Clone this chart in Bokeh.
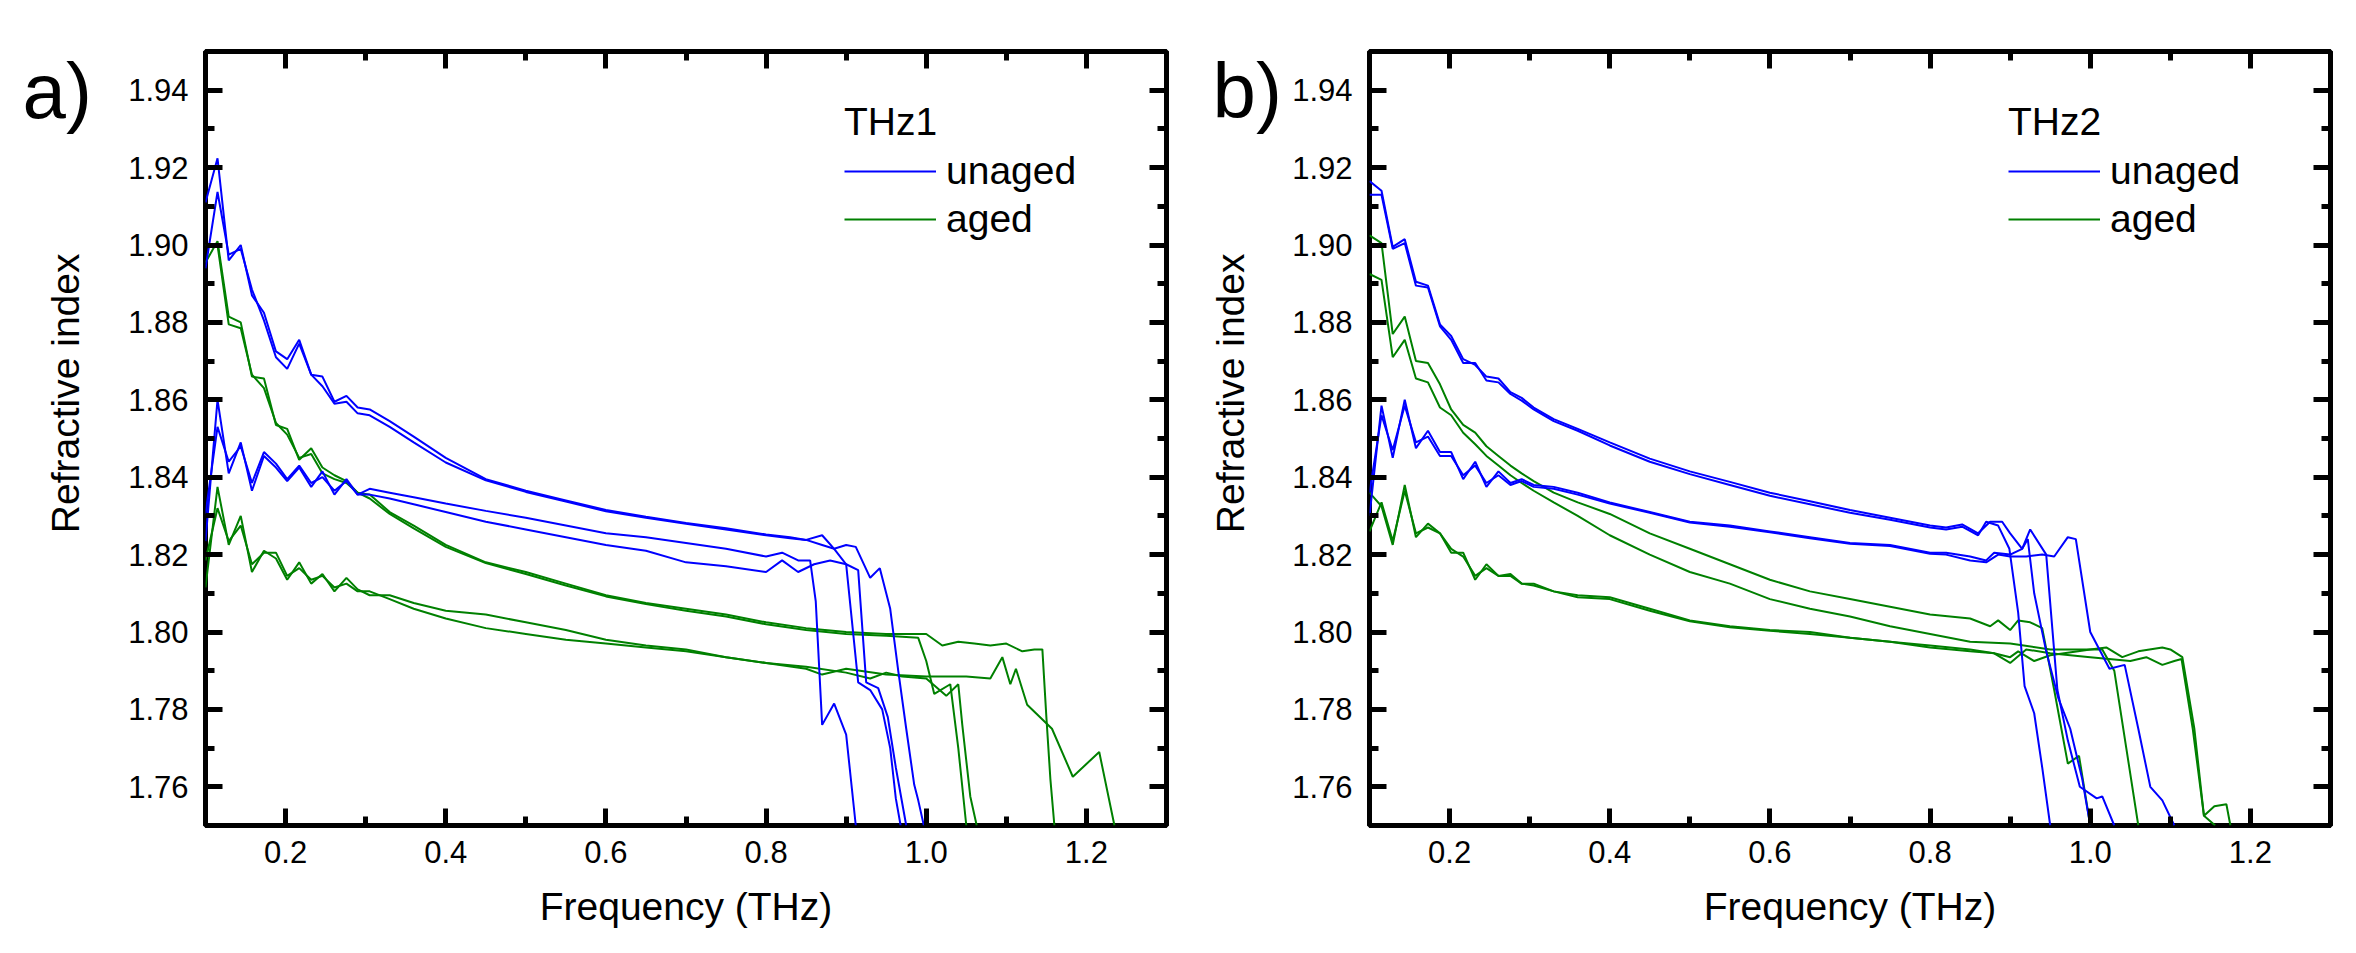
import math
from bokeh.plotting import figure
from bokeh.models import (LinearAxis, Range1d, Legend, LegendItem, Label,
                          FixedTicker, NumeralTickFormatter, CustomJSTickFormatter)
from bokeh.layouts import row
from bokeh.embed import file_html
from bokeh.resources import INLINE

# ---------------- data ----------------
FREQ_GRID = [0.100, 0.115, 0.129, 0.144, 0.158, 0.173, 0.188, 0.202, 0.217, 0.232,
             0.246, 0.261, 0.276, 0.290, 0.305, 0.33, 0.36, 0.40, 0.45, 0.50,
             0.55, 0.60, 0.65, 0.70, 0.75, 0.80]

X_TICKS = [0.2, 0.4, 0.6, 0.8, 1.0, 1.2]
X_MINOR = [0.1, 0.3, 0.5, 0.7, 0.9, 1.1, 1.3]
Y_TICKS = [1.76, 1.78, 1.80, 1.82, 1.84, 1.86, 1.88, 1.90, 1.92, 1.94]
Y_MINOR = [1.75, 1.77, 1.79, 1.81, 1.83, 1.85, 1.87, 1.89, 1.91, 1.93, 1.95]

X_LABEL = "Frequency (THz)"
Y_LABEL = "Refractive index"

# ---- THz1 (panel a) ----
A_UNAGED_1 = [1.911, 1.9224, 1.896, 1.900, 1.887, 1.8825, 1.8725, 1.8705, 1.8755, 1.8665,
              1.866, 1.8595, 1.861, 1.858, 1.8575, 1.8545, 1.8505, 1.845, 1.8395, 1.8365,
              1.834, 1.8315, 1.8298, 1.8282, 1.8268, 1.8252]
A_UNAGED_1_TAIL_F = [0.83, 0.85, 0.87, 0.885, 0.90, 0.915, 0.93, 0.945, 0.955, 0.962, 0.968]
A_UNAGED_1_TAIL_N = [1.8245, 1.8238, 1.825, 1.8215, 1.8175, 1.787, 1.785, 1.78, 1.77, 1.757, 1.75]

A_UNAGED_2 = [1.894, 1.9137, 1.8975, 1.899, 1.8885, 1.8805, 1.871, 1.868, 1.8745, 1.8665,
              1.8635, 1.859, 1.8595, 1.8565, 1.856, 1.853, 1.849, 1.8438, 1.8392, 1.8362,
              1.8337, 1.8312, 1.8295, 1.828, 1.8265, 1.825]
A_UNAGED_2_TAIL_F = [0.83, 0.85, 0.87, 0.885, 0.90, 0.912, 0.93, 0.942, 0.955, 0.965, 0.975, 0.985, 0.99, 0.997]
A_UNAGED_2_TAIL_N = [1.8242, 1.8238, 1.8225, 1.8215, 1.8225, 1.822, 1.814, 1.8165, 1.806, 1.79, 1.775, 1.7605, 1.7565, 1.75]

A_UNAGED_3 = [1.8235, 1.860, 1.841, 1.849, 1.8365, 1.8455, 1.8425, 1.839, 1.8425, 1.8375,
              1.8415, 1.8355, 1.8395, 1.8355, 1.837, 1.836, 1.8348, 1.8332, 1.8313, 1.8295,
              1.8275, 1.8255, 1.8245, 1.823, 1.8215, 1.8195]
A_UNAGED_3_TAIL_F = [0.82, 0.84, 0.855, 0.862, 0.87, 0.885, 0.90, 0.912]
A_UNAGED_3_TAIL_N = [1.8205, 1.8185, 1.8185, 1.808, 1.776, 1.7815, 1.7735, 1.75]

A_UNAGED_4 = [1.8305, 1.853, 1.844, 1.848, 1.8385, 1.8465, 1.8435, 1.8395, 1.843, 1.8385,
              1.840, 1.8365, 1.839, 1.8355, 1.8355, 1.8345, 1.833, 1.831, 1.8285, 1.8265,
              1.8245, 1.8225, 1.821, 1.818, 1.817, 1.8155]
A_UNAGED_4_TAIL_F = [0.82, 0.84, 0.86, 0.88, 0.90, 0.915, 0.925, 0.94, 0.952, 0.962, 0.975]
A_UNAGED_4_TAIL_N = [1.8185, 1.8155, 1.8175, 1.8185, 1.8175, 1.816, 1.787, 1.7855, 1.778, 1.765, 1.75]

A_AGED_1 = [1.8955, 1.901, 1.8815, 1.880, 1.866, 1.8655, 1.8535, 1.8525, 1.8445, 1.8475,
            1.8425, 1.8405, 1.839, 1.836, 1.8355, 1.831, 1.8275, 1.8225, 1.818, 1.8155,
            1.8125, 1.8095, 1.8075, 1.806, 1.8045, 1.8025]
A_AGED_1_TAIL_F = [0.85, 0.90, 0.95, 1.00, 1.02, 1.04, 1.06, 1.08, 1.10, 1.12, 1.135, 1.145, 1.15, 1.155, 1.16]
A_AGED_1_TAIL_N = [1.801, 1.800, 1.7995, 1.7995, 1.7965, 1.7975, 1.797, 1.7965, 1.797, 1.795, 1.7955, 1.7955, 1.778, 1.762, 1.75]

A_AGED_2 = [1.900, 1.900, 1.8795, 1.8785, 1.8665, 1.863, 1.854, 1.851, 1.845, 1.846,
            1.841, 1.8395, 1.8385, 1.836, 1.8345, 1.8305, 1.8268, 1.822, 1.8178, 1.815,
            1.812, 1.8092, 1.8072, 1.8055, 1.804, 1.802]
A_AGED_2_TAIL_F = [0.85, 0.90, 0.95, 0.99, 1.00, 1.01, 1.03, 1.04, 1.05]
A_AGED_2_TAIL_N = [1.8005, 1.7995, 1.799, 1.7985, 1.7925, 1.784, 1.7865, 1.77, 1.75]

A_AGED_3 = [1.8115, 1.8375, 1.8225, 1.830, 1.8155, 1.821, 1.819, 1.8135, 1.818, 1.8125,
            1.815, 1.8105, 1.814, 1.811, 1.8095, 1.8095, 1.8075, 1.8055, 1.8045, 1.8025,
            1.8005, 1.798, 1.7965, 1.7955, 1.7935, 1.792]
A_AGED_3_TAIL_F = [0.85, 0.87, 0.90, 0.95, 1.00, 1.05, 1.08, 1.095, 1.105, 1.112, 1.126, 1.157, 1.183, 1.216, 1.235]
A_AGED_3_TAIL_N = [1.7905, 1.789, 1.7905, 1.789, 1.7885, 1.7885, 1.788, 1.7935, 1.7865, 1.7905, 1.7812, 1.775, 1.7626, 1.769, 1.75]

A_AGED_4 = [1.8185, 1.832, 1.8235, 1.8275, 1.8175, 1.8205, 1.8205, 1.8145, 1.8165, 1.8135,
            1.8145, 1.8115, 1.8125, 1.8105, 1.8105, 1.8085, 1.806, 1.8035, 1.801, 1.7995,
            1.798, 1.797, 1.796, 1.795, 1.7935, 1.792]
A_AGED_4_TAIL_F = [0.85, 0.90, 0.93, 0.95, 0.97, 1.00, 1.025, 1.04, 1.045, 1.055, 1.063]
A_AGED_4_TAIL_N = [1.791, 1.7895, 1.788, 1.7895, 1.7885, 1.788, 1.7835, 1.7865, 1.776, 1.7575, 1.75]

# ---- THz2 (panel b) ----
B_UNAGED_1 = [1.9165, 1.914, 1.8995, 1.9015, 1.8905, 1.8895, 1.8795, 1.8765, 1.8705, 1.869,
              1.866, 1.8655, 1.862, 1.8605, 1.858, 1.855, 1.8525, 1.849, 1.8448, 1.8415,
              1.8388, 1.836, 1.8338, 1.8315, 1.8295, 1.8275]
B_UNAGED_1_TAIL_F = [0.82, 0.84, 0.86, 0.875, 0.89, 0.90, 0.915, 0.925, 0.945, 0.959, 0.972, 0.987, 1.008, 1.015, 1.03]
B_UNAGED_1_TAIL_N = [1.827, 1.8278, 1.8255, 1.8285, 1.8285, 1.8255, 1.8215, 1.8265, 1.82, 1.785, 1.772, 1.76, 1.757, 1.7575, 1.75]

B_UNAGED_2 = [1.913, 1.913, 1.899, 1.9005, 1.8895, 1.889, 1.879, 1.8755, 1.8695, 1.8695,
              1.865, 1.8645, 1.8615, 1.8598, 1.8575, 1.8545, 1.852, 1.8482, 1.844, 1.8408,
              1.838, 1.8352, 1.833, 1.8308, 1.829, 1.827]
B_UNAGED_2_TAIL_F = [0.82, 0.84, 0.86, 0.87, 0.885, 0.899, 0.91, 0.918, 0.93, 0.94, 0.95]
B_UNAGED_2_TAIL_N = [1.8265, 1.8272, 1.825, 1.8285, 1.8275, 1.8215, 1.805, 1.786, 1.779, 1.765, 1.75]

B_UNAGED_3 = [1.830, 1.8585, 1.845, 1.860, 1.8475, 1.852, 1.8465, 1.8465, 1.8395, 1.844,
              1.8375, 1.8415, 1.8385, 1.8395, 1.838, 1.8375, 1.836, 1.8335, 1.831, 1.8285,
              1.8275, 1.826, 1.8245, 1.823, 1.8225, 1.8205]
B_UNAGED_3_TAIL_F = [0.82, 0.85, 0.87, 0.88, 0.90, 0.915, 0.922, 0.93, 0.945, 0.96, 0.975, 0.99, 1.0]
B_UNAGED_3_TAIL_N = [1.8205, 1.8195, 1.8185, 1.8205, 1.820, 1.8215, 1.824, 1.810, 1.795, 1.783, 1.775, 1.762, 1.75]

B_UNAGED_4 = [1.836, 1.856, 1.847, 1.8585, 1.849, 1.8505, 1.8455, 1.8455, 1.8405, 1.843,
              1.8385, 1.8405, 1.838, 1.839, 1.8375, 1.837, 1.8355, 1.8332, 1.8308, 1.8283,
              1.8272, 1.8258, 1.8242, 1.8228, 1.8222, 1.8202]
B_UNAGED_4_TAIL_F = [0.82, 0.85, 0.87, 0.885, 0.90, 0.92, 0.94, 0.955, 0.972, 0.982, 1.0, 1.024, 1.043, 1.06, 1.075, 1.09, 1.105]
B_UNAGED_4_TAIL_N = [1.820, 1.8185, 1.818, 1.820, 1.8195, 1.8195, 1.820, 1.8195, 1.8245, 1.824, 1.800, 1.7905, 1.7915, 1.775, 1.760, 1.7565, 1.75]

B_AGED_1 = [1.9025, 1.9005, 1.877, 1.8815, 1.870, 1.8695, 1.864, 1.8575, 1.8535, 1.8515,
            1.848, 1.8455, 1.843, 1.841, 1.839, 1.836, 1.8335, 1.8305, 1.8255, 1.8215,
            1.8175, 1.8135, 1.8105, 1.8085, 1.8065, 1.8045]
B_AGED_1_TAIL_F = [0.85, 0.875, 0.885, 0.90, 0.91, 0.925, 0.94, 0.955, 0.972, 0.986, 1.0]
B_AGED_1_TAIL_N = [1.8035, 1.8015, 1.803, 1.8005, 1.803, 1.8025, 1.801, 1.785, 1.766, 1.768, 1.75]

B_AGED_2 = [1.8925, 1.891, 1.871, 1.8755, 1.8655, 1.8645, 1.858, 1.856, 1.8515, 1.8485,
            1.8455, 1.843, 1.8405, 1.8385, 1.8365, 1.8335, 1.830, 1.825, 1.820, 1.8155,
            1.8125, 1.8085, 1.806, 1.804, 1.8015, 1.7995]
B_AGED_2_TAIL_F = [0.85, 0.90, 0.95, 1.00, 1.015, 1.03, 1.045, 1.06]
B_AGED_2_TAIL_N = [1.7975, 1.797, 1.7955, 1.7955, 1.7955, 1.790, 1.770, 1.75]

B_AGED_3 = [1.836, 1.8325, 1.8225, 1.838, 1.8245, 1.828, 1.8255, 1.8205, 1.8205, 1.8135,
            1.8175, 1.8145, 1.815, 1.8125, 1.8125, 1.8105, 1.8095, 1.809, 1.806, 1.803,
            1.8015, 1.8005, 1.800, 1.7985, 1.7975, 1.7965]
B_AGED_3_TAIL_F = [0.85, 0.88, 0.90, 0.91, 0.93, 0.95, 1.00, 1.02, 1.04, 1.06, 1.09, 1.10, 1.115, 1.13, 1.142, 1.156]
B_AGED_3_TAIL_N = [1.7955, 1.7945, 1.7935, 1.795, 1.7925, 1.794, 1.7955, 1.796, 1.7935, 1.795, 1.796, 1.7955, 1.7935, 1.775, 1.7525, 1.75]

B_AGED_4 = [1.826, 1.8335, 1.8235, 1.8365, 1.8255, 1.827, 1.8255, 1.8215, 1.8195, 1.8145,
            1.8165, 1.8145, 1.8145, 1.8125, 1.812, 1.8105, 1.809, 1.8085, 1.8055, 1.8028,
            1.8012, 1.8003, 1.7995, 1.7985, 1.7975, 1.796]
B_AGED_4_TAIL_F = [0.85, 0.88, 0.90, 0.92, 0.95, 1.00, 1.05, 1.07, 1.09, 1.105, 1.114, 1.128, 1.142, 1.155, 1.17, 1.175]
B_AGED_4_TAIL_N = [1.795, 1.7945, 1.792, 1.7955, 1.7945, 1.7935, 1.7925, 1.7935, 1.7915, 1.7925, 1.793, 1.775, 1.7525, 1.755, 1.7555, 1.75]

PANELS = [
    dict(tag="a)", name="THz1",
         unaged=[(A_UNAGED_1, A_UNAGED_1_TAIL_F, A_UNAGED_1_TAIL_N),
                 (A_UNAGED_2, A_UNAGED_2_TAIL_F, A_UNAGED_2_TAIL_N),
                 (A_UNAGED_3, A_UNAGED_3_TAIL_F, A_UNAGED_3_TAIL_N),
                 (A_UNAGED_4, A_UNAGED_4_TAIL_F, A_UNAGED_4_TAIL_N)],
         aged=[(A_AGED_1, A_AGED_1_TAIL_F, A_AGED_1_TAIL_N),
               (A_AGED_2, A_AGED_2_TAIL_F, A_AGED_2_TAIL_N),
               (A_AGED_3, A_AGED_3_TAIL_F, A_AGED_3_TAIL_N),
               (A_AGED_4, A_AGED_4_TAIL_F, A_AGED_4_TAIL_N)]),
    dict(tag="b)", name="THz2",
         unaged=[(B_UNAGED_1, B_UNAGED_1_TAIL_F, B_UNAGED_1_TAIL_N),
                 (B_UNAGED_2, B_UNAGED_2_TAIL_F, B_UNAGED_2_TAIL_N),
                 (B_UNAGED_3, B_UNAGED_3_TAIL_F, B_UNAGED_3_TAIL_N),
                 (B_UNAGED_4, B_UNAGED_4_TAIL_F, B_UNAGED_4_TAIL_N)],
         aged=[(B_AGED_1, B_AGED_1_TAIL_F, B_AGED_1_TAIL_N),
               (B_AGED_2, B_AGED_2_TAIL_F, B_AGED_2_TAIL_N),
               (B_AGED_3, B_AGED_3_TAIL_F, B_AGED_3_TAIL_N),
               (B_AGED_4, B_AGED_4_TAIL_F, B_AGED_4_TAIL_N)]),
]

# ---------------- styling ----------------
FONT = "Liberation Sans"
BLUE = "#0000ff"
GREEN = "#008000"
FRAME_W, FRAME_H = 961, 774
TOP, BOTTOM = 51, 126
FIG_H = TOP + FRAME_H + BOTTOM


def style_axis(ax, is_x, labels=True):
    ax.ticker = FixedTicker(ticks=X_TICKS if is_x else Y_TICKS,
                            minor_ticks=X_MINOR if is_x else Y_MINOR)
    ax.axis_line_color = None
    ax.major_tick_in = 17
    ax.major_tick_out = 0
    ax.minor_tick_in = 9
    ax.minor_tick_out = 0
    ax.major_tick_line_width = 5
    ax.minor_tick_line_width = 5
    ax.major_tick_line_color = "black"
    ax.minor_tick_line_color = "black"
    ax.major_label_text_font = FONT
    ax.major_label_text_font_size = "31px"
    ax.major_label_text_color = "black"
    if labels:
        ax.formatter = NumeralTickFormatter(format="0.0" if is_x else "0.00")
    else:
        ax.formatter = CustomJSTickFormatter(code="return ''")


def make_strip(width, tag, tag_cx, tag_cy, ylabel_cx, ylabel_cy):
    """Narrow strip left of a panel holding the panel tag and the y-axis title."""
    s = figure(width=width, height=FIG_H, min_border=0,
               min_border_left=0, min_border_right=0, min_border_top=0, min_border_bottom=0,
               x_range=Range1d(0, width), y_range=Range1d(FIG_H, 0),
               x_axis_location=None, y_axis_location=None,
               output_backend="svg", toolbar_location=None, tools="",
               background_fill_color="white", border_fill_color="white")
    s.outline_line_color = None
    s.grid.visible = False
    s.add_layout(Label(x=tag_cx, y=tag_cy, text=tag, text_font=FONT,
                       text_font_size="78px", text_color="black",
                       text_baseline="middle", text_align="center"))
    s.add_layout(Label(x=ylabel_cx, y=ylabel_cy, text=Y_LABEL, text_font=FONT,
                       text_font_size="39px", text_color="black", angle=math.pi / 2,
                       text_baseline="middle", text_align="center"))
    return s


def make_panel(panel, border_left, border_right):
    p = figure(frame_width=FRAME_W, frame_height=FRAME_H,
               min_border_left=border_left, min_border_right=border_right,
               min_border_top=TOP, min_border_bottom=BOTTOM,
               x_range=Range1d(0.1, 1.3), y_range=Range1d(1.75, 1.95),
               output_backend="svg", toolbar_location=None, tools="",
               background_fill_color="white", border_fill_color="white")
    p.grid.visible = False
    p.outline_line_color = "black"
    p.outline_line_width = 5

    for ax in p.xaxis:
        style_axis(ax, True)
    for ax in p.yaxis:
        style_axis(ax, False)
    p.xaxis.major_label_standoff = 15
    p.yaxis.major_label_standoff = 17
    p.xaxis.axis_label = X_LABEL
    p.xaxis.axis_label_text_font = FONT
    p.xaxis.axis_label_text_font_size = "39px"
    p.xaxis.axis_label_text_font_style = "normal"
    p.xaxis.axis_label_text_color = "black"
    p.xaxis.axis_label_standoff = 19

    top = LinearAxis()
    right = LinearAxis()
    style_axis(top, True, labels=False)
    style_axis(right, False, labels=False)
    top.major_label_standoff = 0
    right.major_label_standoff = 0
    p.add_layout(top, "above")
    p.add_layout(right, "right")

    first_blue = first_green = None
    for base, tf, tn in panel["aged"]:
        r = p.line(FREQ_GRID + tf, base + tn, line_color=GREEN, line_width=2)
        first_green = first_green or r
    for base, tf, tn in panel["unaged"]:
        r = p.line(FREQ_GRID + tf, base + tn, line_color=BLUE, line_width=2)
        first_blue = first_blue or r

    legend = Legend(items=[LegendItem(label="unaged", renderers=[first_blue]),
                           LegendItem(label="aged", renderers=[first_green])],
                    title=panel["name"], location=(639, 584))
    legend.title_text_font = FONT
    legend.title_text_font_size = "39px"
    legend.title_text_font_style = "normal"
    legend.title_text_color = "black"
    legend.title_standoff = 5
    legend.label_text_font = FONT
    legend.label_text_font_size = "39px"
    legend.label_text_color = "black"
    legend.glyph_width = 92
    legend.glyph_height = 40
    legend.label_standoff = 10
    legend.spacing = 4
    legend.padding = 0
    legend.margin = 0
    legend.border_line_color = None
    legend.background_fill_alpha = 0
    p.add_layout(legend)
    return p


strip_a = make_strip(110, PANELS[0]["tag"], 56.7, 48, 65, 420)
pa = make_panel(PANELS[0], 95, 12)
strip_b = make_strip(105, PANELS[1]["tag"], 68.7, 48, 51.5, 420)
pb = make_panel(PANELS[1], 86, 20)
layout = row(strip_a, pa, strip_b, pb)

with open("out.html", "w") as f:
    f.write(file_html(layout, INLINE))
